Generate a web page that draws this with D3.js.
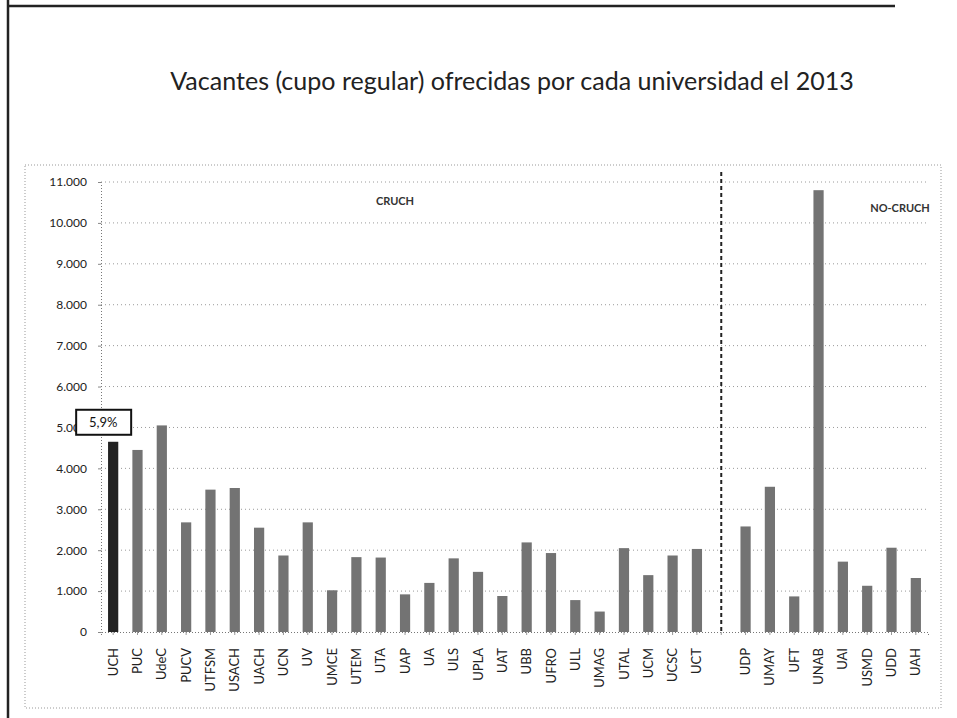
<!DOCTYPE html>
<html>
<head>
<meta charset="utf-8">
<script src="https://cdn.jsdelivr.net/npm/d3@7"></script>
<style>
  body { margin: 0; background: #fff; }
  svg { display: block; }
</style>
</head>
<body>
<svg id="chart" width="957" height="718"></svg>
<script>
// data
var cruchNames = ["UCH", "PUC", "UdeC", "PUCV", "UTFSM", "USACH", "UACH", "UCN", "UV", "UMCE",
    "UTEM", "UTA", "UAP", "UA", "ULS", "UPLA", "UAT", "UBB", "UFRO", "ULL", "UMAG", "UTAL",
    "UCM", "UCSC", "UCT"];
var cruchValues = [4650, 4450, 5050, 2680, 3480, 3520, 2550, 1870, 2680, 1020,
    1830, 1820, 920, 1200, 1800, 1470, 880, 2190, 1930, 780, 500, 2050,
    1390, 1870, 2030];
var noCruchNames = ["UDP", "UMAY", "UFT", "UNAB", "UAI", "USMD", "UDD", "UAH"];
var noCruchValues = [2580, 3550, 870, 10800, 1720, 1130, 2060, 1320];
var yTicks = [0, 1000, 2000, 3000, 4000, 5000, 6000, 7000, 8000, 9000, 10000, 11000];
var highlightName = "UCH";
var highlightLabel = "5,9%";
var gap = "__gap__";

var svg = d3.select("#chart");
var plotLeft = 101, plotRight = 928, plotTop = 182, plotBottom = 632;

var rows = [];
cruchNames.forEach(function(n, i) { rows.push({name: n, value: cruchValues[i]}); });
noCruchNames.forEach(function(n, i) { rows.push({name: n, value: noCruchValues[i]}); });

var domain = cruchNames.concat([gap], noCruchNames);
var x = d3.scaleBand().domain(domain).range([plotLeft, plotRight]).paddingInner(0.58).paddingOuter(0.29);
var y = d3.scaleLinear().domain([0, 11000]).range([plotBottom, plotTop]);

var esFormat = d3.formatLocale({decimal: ",", thousands: ".", grouping: [3], currency: ["", ""]}).format(",d");

// frame
svg.append("line").attr("x1", 8).attr("x2", 8).attr("y1", 0).attr("y2", 718)
    .attr("stroke", "#222").attr("stroke-width", 2.5);
svg.append("line").attr("x1", 8).attr("x2", 895).attr("y1", 6).attr("y2", 6)
    .attr("stroke", "#222").attr("stroke-width", 2.5);
svg.append("rect").attr("x", 25).attr("y", 165).attr("width", 916).attr("height", 543)
    .attr("fill", "none").attr("stroke", "#999").attr("stroke-dasharray", "1,2");

// title
var title = svg.append("text")
    .attr("x", 512).attr("y", 90)
    .attr("text-anchor", "middle")
    .style("font-family", "Lato, 'Open Sans', sans-serif")
    .style("font-size", "22px")
    .style("fill", "#222")
    .text("Vacantes (cupo regular) ofrecidas por cada universidad el 2013");
var tw = title.node().getComputedTextLength();
title.style("font-size", (22 * 684 / tw) + "px");

// gridlines
svg.append("g").selectAll("line").data(yTicks.slice(1)).enter().append("line")
    .attr("x1", plotLeft).attr("x2", plotRight)
    .attr("y1", function(d) { return y(d); }).attr("y2", function(d) { return y(d); })
    .attr("stroke", "#9a9a9a").attr("stroke-dasharray", "1,3");

// y axis
var yAxis = svg.append("g").attr("transform", "translate(" + plotLeft + ",0)")
    .call(d3.axisLeft(y).tickValues(yTicks).tickFormat(esFormat).tickSize(3));
yAxis.select(".domain").attr("stroke", "#777").attr("stroke-dasharray", "1,2");
yAxis.selectAll(".tick line").attr("stroke", "#888");
yAxis.selectAll("text").attr("x", -14)
    .style("font-family", "Lato, sans-serif").style("font-size", "12px").style("fill", "#222");

// x axis
var xAxis = svg.append("g").attr("transform", "translate(0," + plotBottom + ")")
    .call(d3.axisBottom(x).tickSize(3).tickFormat(function(d) { return d === gap ? "" : d; }));
xAxis.select(".domain").attr("stroke", "#777").attr("stroke-dasharray", "1,2");
xAxis.selectAll(".tick line").attr("stroke", "#999");
xAxis.selectAll("text")
    .attr("transform", "rotate(-90)")
    .attr("x", -16).attr("y", 0).attr("dy", "0.35em")
    .style("text-anchor", "end")
    .style("font-family", "Lato, sans-serif").style("font-size", "13px").style("fill", "#222");

// bars
svg.append("g").selectAll("rect").data(rows).enter().append("rect")
    .attr("x", function(d) { return x(d.name); })
    .attr("width", x.bandwidth())
    .attr("y", function(d) { return y(d.value); })
    .attr("height", function(d) { return plotBottom - y(d.value); })
    .attr("fill", function(d) { return d.name === highlightName ? "#222" : "#737373"; });

// separator between groups
var gx = x(gap) + x.bandwidth() / 2;
svg.append("line").attr("x1", gx).attr("x2", gx).attr("y1", 172).attr("y2", plotBottom)
    .attr("stroke", "#222").attr("stroke-width", 2).attr("stroke-dasharray", "4,3");

// group labels
svg.append("text").attr("x", 395).attr("y", 205).attr("text-anchor", "middle")
    .style("font-family", "Lato, sans-serif").style("font-size", "11px").style("font-weight", "bold")
    .style("fill", "#333").text("CRUCH");
svg.append("text").attr("x", 900).attr("y", 212).attr("text-anchor", "middle")
    .style("font-family", "Lato, sans-serif").style("font-size", "11px").style("font-weight", "bold")
    .style("fill", "#333").text("NO-CRUCH");

// callout for the highlighted bar
var hv = cruchValues[cruchNames.indexOf(highlightName)];
var bx = x(highlightName) + x.bandwidth() / 2 - 37, by = y(hv) - 32;
svg.append("rect").attr("x", bx).attr("y", by).attr("width", 55).attr("height", 25)
    .attr("fill", "#fff").attr("stroke", "#111").attr("stroke-width", 2);
svg.append("text").attr("x", bx + 27).attr("y", by + 17).attr("text-anchor", "middle")
    .style("font-family", "Lato, sans-serif").style("font-size", "13px").style("fill", "#111")
    .text(highlightLabel);
</script>
</body>
</html>
